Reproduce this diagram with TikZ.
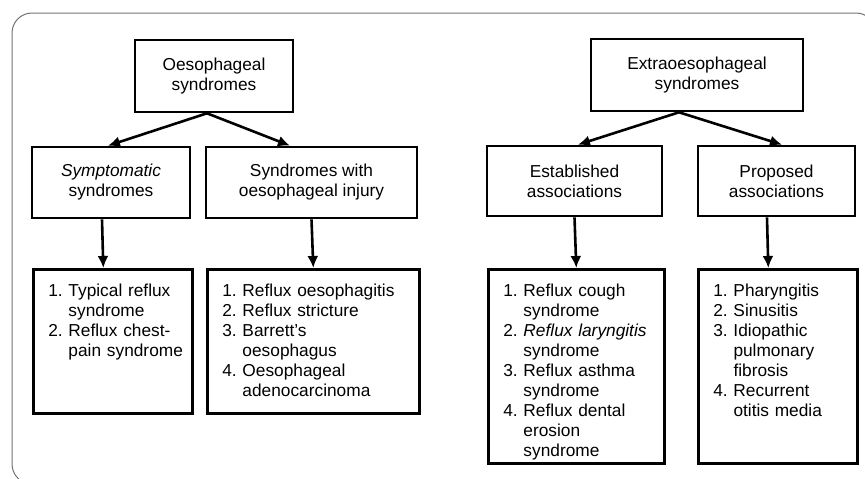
\documentclass[tikz,border=0pt]{standalone}
\usepackage{fontspec}
\setmainfont{Liberation Sans}
\usetikzlibrary{arrows.meta}

\begin{document}
\begin{tikzpicture}[
  x=1pt, y=-1pt,
  > = {Latex[length=12pt,width=11pt]},
  box/.style = {draw, line width=2.6pt, align=center, inner sep=0pt, font=\fontsize{17.3}{20}\selectfont},
  listbox/.style = {draw, line width=2.6pt, anchor=north west, align=left, inner xsep=15pt, inner ysep=13.5pt, text height=14pt, font=\fontsize{17.3}{20}\selectfont},
  arr/.style = {->, line width=2.6pt}
  ]
  \useasboundingbox (0,0) rectangle (865,479);
  \clip (0,0) rectangle (865,479);
  \draw[black!55, line width=1pt, rounded corners=20pt] (12,13) rectangle (876,484);

  % oesophageal side
  \node[box, minimum width=158pt, minimum height=72pt] (oes) at (214,76) {Oesophageal\\syndromes};
  \node[box, minimum width=158pt, minimum height=71pt] (symp) at (111,182.5) {\textit{Symptomatic}\\syndromes};
  \node[box, minimum width=211pt, minimum height=71pt] (inj) at (311.5,182.5) {Syndromes with\\oesophageal injury};

  \node[listbox, text width=129pt, text depth=103pt] (symplist) at (32,268) {%
    \begin{tabular}[t]{@{}r@{\ }l@{}}
      1. & Typical reflux\\ & syndrome\\
      2. & Reflux chest-\\ & pain syndrome
    \end{tabular}};
  \node[listbox, text width=182pt, text depth=103pt] (injlist) at (206,268) {%
    \begin{tabular}[t]{@{}r@{\ }l@{}}
      1. & Reflux oesophagitis\\
      2. & Reflux stricture\\
      3. & Barrett's\\ & oesophagus\\
      4. & Oesophageal\\ & adenocarcinoma
    \end{tabular}};

  % extraoesophageal side
  \node[box, minimum width=212pt, minimum height=72pt] (extra) at (697,75) {Extraoesophageal\\syndromes};
  \node[box, minimum width=175pt, minimum height=70pt] (est) at (574.5,181) {Established\\associations};
  \node[box, minimum width=157pt, minimum height=70pt] (prop) at (776.5,181) {Proposed\\associations};

  \node[listbox, text width=146pt, text depth=153pt] (estlist) at (487,268) {%
    \begin{tabular}[t]{@{}r@{\ }l@{}}
      1. & Reflux cough\\ & syndrome\\
      2. & \textit{Reflux laryngitis}\\ & syndrome\\
      3. & Reflux asthma\\ & syndrome\\
      4. & Reflux dental\\ & erosion\\ & syndrome
    \end{tabular}};
  \node[listbox, text width=129pt, text depth=153pt] (proplist) at (697,268) {%
    \begin{tabular}[t]{@{}r@{\ }l@{}}
      1. & Pharyngitis\\
      2. & Sinusitis\\
      3. & Idiopathic\\ & pulmonary\\ & fibrosis\\
      4. & Recurrent\\ & otitis media
    \end{tabular}};

  \draw[arr] ([xshift=-7pt]oes.south) -- ([xshift=-3pt]symp.north);
  \draw[arr] ([xshift=-7pt]oes.south) -- ([xshift=-21.5pt]inj.north);
  \draw[arr] ([xshift=-9pt]symp.south) -- ([xshift=-9.5pt]symplist.north);
  \draw[arr] (inj.south) -- (injlist.north);

  \draw[arr] ([xshift=-18pt]extra.south) -- ([xshift=3.5pt]est.north);
  \draw[arr] ([xshift=-18pt]extra.south) -- ([xshift=5.5pt]prop.north);
  \draw[arr] (est.south) -- (estlist.north);
  \draw[arr] ([xshift=-9.5pt]prop.south) -- ([xshift=-9.5pt]proplist.north);

\end{tikzpicture}
\end{document}
